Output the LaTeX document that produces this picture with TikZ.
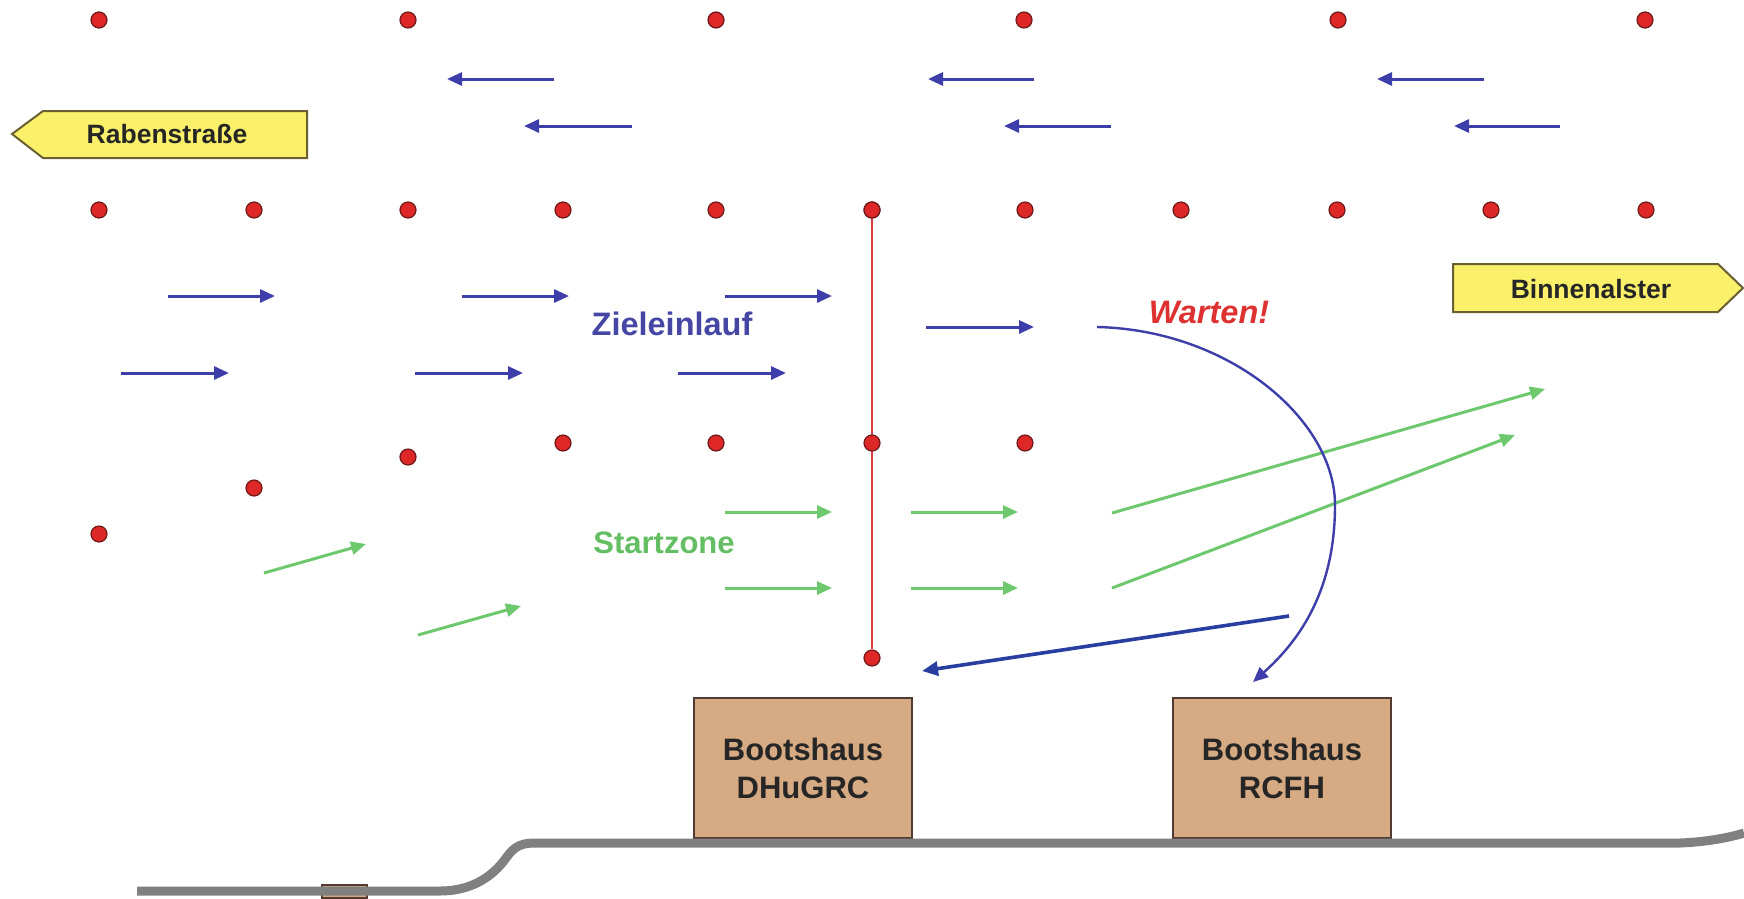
\documentclass[tikz,border=0pt]{standalone}
\usepackage{fontspec}
\setmainfont{Liberation Sans}
\usetikzlibrary{arrows.meta}
\definecolor{dotred}{RGB}{222,40,40}
\definecolor{dotedge}{RGB}{110,25,25}
\definecolor{arrblue}{RGB}{62,62,170}
\definecolor{darkblue}{RGB}{40,62,160}
\definecolor{arrgreen}{RGB}{110,200,110}
\definecolor{signyellow}{RGB}{250,240,105}
\definecolor{signedge}{RGB}{105,95,50}
\definecolor{tanfill}{RGB}{214,170,130}
\definecolor{tanedge}{RGB}{80,60,50}
\definecolor{groundgray}{RGB}{128,128,128}
\definecolor{zielblue}{RGB}{70,70,165}
\definecolor{startgreen}{RGB}{100,190,100}
\definecolor{wartred}{RGB}{222,50,50}
\definecolor{linered}{RGB}{220,60,60}
\tikzset{
  reddot/.style={circle, fill=dotred, draw=dotedge, line width=1.2pt, inner sep=0pt, minimum size=16pt},
  bluearr/.style={draw=arrblue, line width=3pt, -{Triangle[length=15pt,width=13pt]}},
  greenarr/.style={draw=arrgreen, line width=3pt, -{Triangle[length=15pt,width=13pt]}},
  signbox/.style={fill=signyellow, draw=signedge, line width=2pt, line join=miter},
  signtext/.style={font=\fontsize{26.5}{30}\selectfont\bfseries, text=black!85, anchor=base},
  bigtext/.style={font=\fontsize{32.5}{38}\selectfont\bfseries, anchor=base},
  househut/.style={fill=tanfill, draw=tanedge, line width=2pt, minimum width=218pt, minimum height=140pt,
    align=center, font=\fontsize{31}{38}\selectfont\bfseries, text=black!85},
  groundline/.style={draw=groundgray, line width=9pt, line join=round}
}
\begin{document}
\begin{tikzpicture}[x=1pt,y=-1pt]
\useasboundingbox (0,0) rectangle (1744,898);

% small hut remnant at the bottom
\draw[fill=tanfill, draw=tanedge, line width=1.5pt] (322,898) rectangle (367,885);

% boathouses
\node[househut] (hdh) at (803,768) {Bootshaus\\DHuGRC};
\node[househut] (hrc) at (1282,768) {Bootshaus\\RCFH};

% ground
\draw[groundline] (137,891) -- (440,891) .. controls (470,891) and (490,878) .. (503,862)
  .. controls (512,850) and (516,843) .. (535,843) -- (1680,843)
  .. controls (1705,842) and (1728,838) .. (1744,833);

% signposts
\draw[signbox] (12,134) -- (43,111) -- (307,111) -- (307,158) -- (43,158) -- cycle;
\node[signtext] (rab) at (167,143) {Rabenstraße};
\draw[signbox] (1453,264) -- (1718,264) -- (1743,288) -- (1718,312) -- (1453,312) -- cycle;
\node[signtext] (bin) at (1591,298) {Binnenalster};

% red finish line
\node[reddot] (r2f) at (872,210) {};
\node[reddot] (rb) at (872,658) {};
\draw[linered, line width=2pt] (r2f) -- (rb);

% dots row 1
\foreach \x [count=\i] in {99,408,716,1024,1338,1645}
  \node[reddot] (r1-\i) at (\x,20) {};
% dots row 2
\foreach \x [count=\i] in {99,254,408,563,716,872,1025,1181,1337,1491,1646}
  \node[reddot] (r2-\i) at (\x,210) {};
% dots row 3
\foreach \x/\y [count=\i] in {563/443,716/443,872/443,1025/443,408/457,254/488,99/534}
  \node[reddot] (r3-\i) at (\x,\y) {};

% blue leftward arrows
\foreach \xa/\xb/\y in {554/447/79,1034/928/79,1484/1377/79,632/524/126,1111/1004/126,1560/1454/126}
  \draw[bluearr] (\xa,\y) -- (\xb,\y);
% blue rightward arrows
\foreach \xa/\xb/\y in {168/275/296,462/569/296,725/832/296,926/1034/327,121/229/373,415/523/373,678/786/373}
  \draw[bluearr] (\xa,\y) -- (\xb,\y);

% green arrows
\foreach \xa/\ya/\xb/\yb in {264/573/366/544,418/635/521/606,725/512/832/512,911/512/1018/512,725/588/832/588,911/588/1018/588,1112/513/1545/389,1112/588/1515/435}
  \draw[greenarr] (\xa,\ya) -- (\xb,\yb);

% curved arrow to RCFH
\coordinate (cs) at (1097,327);
\coordinate (ce) at (1253,682);
\draw[draw=arrblue, line width=2.4pt, -{Triangle[length=15pt,width=13pt]}]
  (cs) .. controls (1230,330) and (1335,420) .. (1335,505)
  .. controls (1335,590) and (1300,640) .. (ce);

% dark arrow to DHuGRC
\coordinate (ds) at (1289,616);
\coordinate (de) at (922,671);
\draw[draw=darkblue, line width=3.6pt, -{Triangle[length=16pt,width=14pt]}] (ds) -- (de);

% labels
\node[bigtext, text=zielblue] (ziel) at (672,335) {Zieleinlauf};
\node[bigtext, text=startgreen, font=\fontsize{31}{36}\selectfont\bfseries] (start) at (664,553) {Startzone};
\node[bigtext, text=wartred, font=\fontsize{32.5}{38}\selectfont\bfseries\itshape] (wart) at (1209,323) {Warten!};
\end{tikzpicture}
\end{document}
